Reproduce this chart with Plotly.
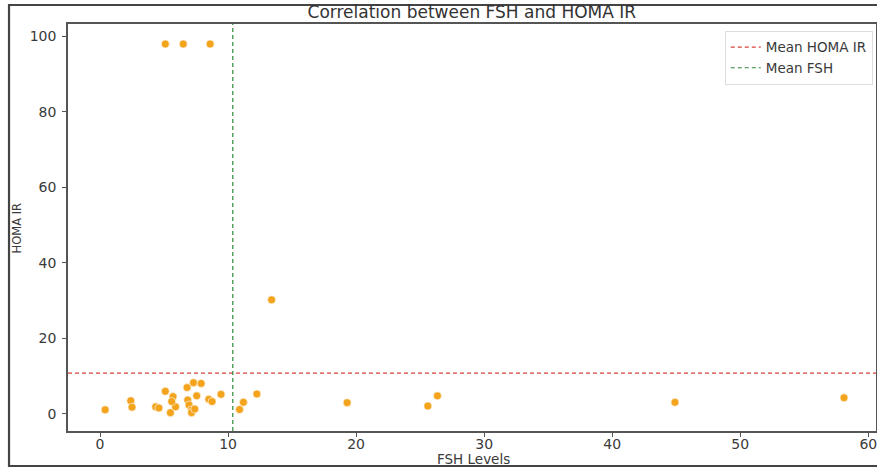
import plotly.graph_objects as go

fsh = [5.1, 6.5, 8.6, 13.4,
       0.4, 2.4, 2.5, 4.35, 4.6, 5.1, 5.7, 5.5, 5.9, 5.6, 6.8, 7.3, 7.9, 7.55,
       6.85, 6.95, 7.15, 7.15, 7.4, 8.5, 8.75, 9.45, 10.9, 11.2, 12.25,
       19.3, 25.6, 26.35, 44.9, 58.1]
homa = [97.9, 97.9, 97.9, 30.2,
        1.1, 3.5, 1.8, 1.9, 1.6, 6.0, 4.6, 0.35, 1.9, 3.3, 7.0, 8.3, 8.1, 4.8,
        3.7, 2.4, 1.1, 0.35, 1.3, 3.9, 3.3, 5.2, 1.2, 3.1, 5.3,
        3.0, 2.1, 4.8, 3.1, 4.3]
mean_homa = 10.8
mean_fsh = 10.37
x_range = [-2.5, 60.6]
y_range = [-4.5, 103.2]
x_ticks = [0, 10, 20, 30, 40, 50, 60]
y_ticks = [0, 20, 40, 60, 80, 100]

FONT = "DejaVu Sans"
TXT = "#3a3a3a"

fig = go.Figure()
fig.add_trace(go.Scatter(
    x=fsh, y=homa, mode="markers", showlegend=False,
    marker=dict(color="#F3A31C", size=8, line=dict(color="white", width=0.6)),
))
fig.add_trace(go.Scatter(
    x=x_range, y=[mean_homa, mean_homa], mode="lines", name="Mean HOMA IR",
    line=dict(color="#d9403a", width=1.2, dash="4px,3px"),
))
fig.add_trace(go.Scatter(
    x=[mean_fsh, mean_fsh], y=y_range, mode="lines", name="Mean FSH",
    line=dict(color="#2e8b3a", width=1.2, dash="4px,3px"),
))

axis_common = dict(
    showgrid=False, zeroline=False, showline=True, mirror=True, automargin=False,
    linecolor="#555555", linewidth=1.5, ticks="outside", ticklen=4,
    tickcolor="#555555", tickfont=dict(family=FONT, size=14, color=TXT),
    ticklabeloverflow="allow",
)
fig.update_xaxes(range=x_range, tickvals=x_ticks, ticklabelstandoff=-5, **axis_common)
fig.update_yaxes(range=y_range, tickvals=y_ticks, ticklabelstandoff=3, **axis_common)

fig.add_annotation(text="FSH Levels", xref="paper", yref="paper", x=0.502, y=-0.0688,
                   xanchor="center", yanchor="middle", showarrow=False,
                   font=dict(family=FONT, size=13.5, color=TXT))
fig.add_annotation(text="HOMA IR", xref="paper", yref="paper", x=-0.052, y=0.5,
                   xanchor="right", yanchor="middle", textangle=-90, showarrow=False,
                   font=dict(family=FONT, size=11.5, color=TXT))

fig.add_shape(type="rect", xref="paper", yref="paper",
              x0=-0.073, x1=1.005, y0=-0.086, y1=1.0467,
              line=dict(color="#444444", width=2.2), fillcolor="rgba(0,0,0,0)", layer="below")

fig.update_layout(
    width=877, height=467,
    margin=dict(l=68, r=1, t=24, b=36),
    paper_bgcolor="white", plot_bgcolor="white",
    title=dict(text="Correlation between FSH and HOMA IR", x=0.538, xanchor="center",
               y=0.974, yanchor="middle",
               font=dict(family=FONT, size=17, color="#333333")),
    legend=dict(x=0.996, y=0.983, xanchor="right", yanchor="top",
                bgcolor="rgba(255,255,255,0.9)", bordercolor="#dddddd", borderwidth=1,
                font=dict(family=FONT, size=13.5, color=TXT),
                itemwidth=30, tracegroupgap=0),
)

fig.write_html("out.html", config={"displayModeBar": False},
               post_script="document.body.style.margin='0';document.body.style.overflow='hidden';")
